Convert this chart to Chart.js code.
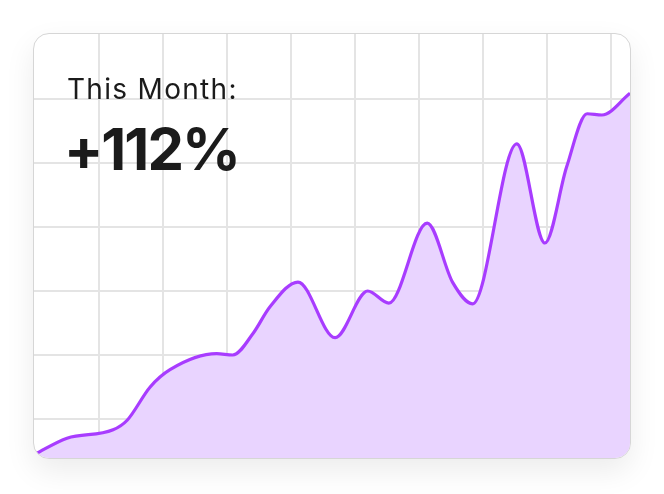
<!DOCTYPE html>
<html>
<head>
<meta charset="utf-8">
<script src="https://cdn.jsdelivr.net/npm/chart.js@4"></script>
<style>
  html, body { margin: 0; padding: 0; background: #fff; }
  .card {
    position: absolute;
    left: 33px; top: 33px;
    width: 596px; height: 424px;
    border: 1px solid #d6d6d6;
    border-radius: 16px;
    overflow: hidden;
    background: #fff;
    box-shadow: 0 12px 30px rgba(0, 0, 0, 0.08);
  }
  .card canvas { position: absolute; left: 0; top: 0; }
  .label {
    position: absolute;
    color: #1b1b1b;
    font-family: Inter, "Liberation Sans", sans-serif;
    white-space: nowrap;
    pointer-events: none;
  }
  .title { left: 33px; top: 38px; font-size: 28px; font-weight: 400; letter-spacing: 1.3px; }
  .value { left: 30px; top: 80px; font-size: 58px; font-weight: 700; letter-spacing: -2px; }
</style>
</head>
<body>
<div class="card">
  <canvas id="growthChart" width="596" height="424"></canvas>
  <div class="label title">This Month:</div>
  <div class="label value">+112%</div>
</div>
<script>
// x in grid columns, y in grid rows (one grid cell = 1 unit)
const xValues = [0, 0.5, 1.22, 1.44, 1.8, 2.11, 2.84, 3.09, 3.41, 3.67, 4.11, 4.69, 5.2, 5.53, 6.13, 6.53, 6.84, 7.53, 7.97, 8.31, 8.63, 8.86, 9.3];
const yValues = [0.45, 0.7, 0.83, 0.98, 1.5, 1.77, 2.02, 2.0, 2.34, 2.75, 3.14, 2.27, 3.0, 2.81, 4.06, 3.13, 2.8, 5.3, 3.75, 4.94, 5.77, 5.75, 6.09];
const gridX = [1, 2, 3, 4, 5, 6, 7, 8, 9];
const gridY = [1, 2, 3, 4, 5, 6];

const points = xValues.map((x, i) => ({ x: x, y: yValues[i] }));

new Chart("growthChart", {
    type: "line",
    data: {
        datasets: [{
            data: points,
            borderColor: "#a83cff",
            backgroundColor: "#e9d4ff",
            borderWidth: 3.2,
            fill: "start",
            pointRadius: 0,
            cubicInterpolationMode: "monotone"
        }]
    },
    options: {
        responsive: false,
        animation: false,
        layout: { padding: 0 },
        plugins: { legend: { display: false }, tooltip: { enabled: false } },
        scales: {
            x: {
                type: "linear",
                min: -0.016,
                max: 9.3,
                afterBuildTicks: (scale) => { scale.ticks = gridX.map(v => ({ value: v })); },
                ticks: { display: false },
                border: { display: false },
                grid: { color: "#e4e4e4", lineWidth: 2, drawTicks: false }
            },
            y: {
                type: "linear",
                min: 0.39,
                max: 7.016,
                afterBuildTicks: (scale) => { scale.ticks = gridY.map(v => ({ value: v })); },
                ticks: { display: false },
                border: { display: false },
                grid: { color: "#e4e4e4", lineWidth: 2, drawTicks: false }
            }
        }
    }
});
</script>
</body>
</html>
